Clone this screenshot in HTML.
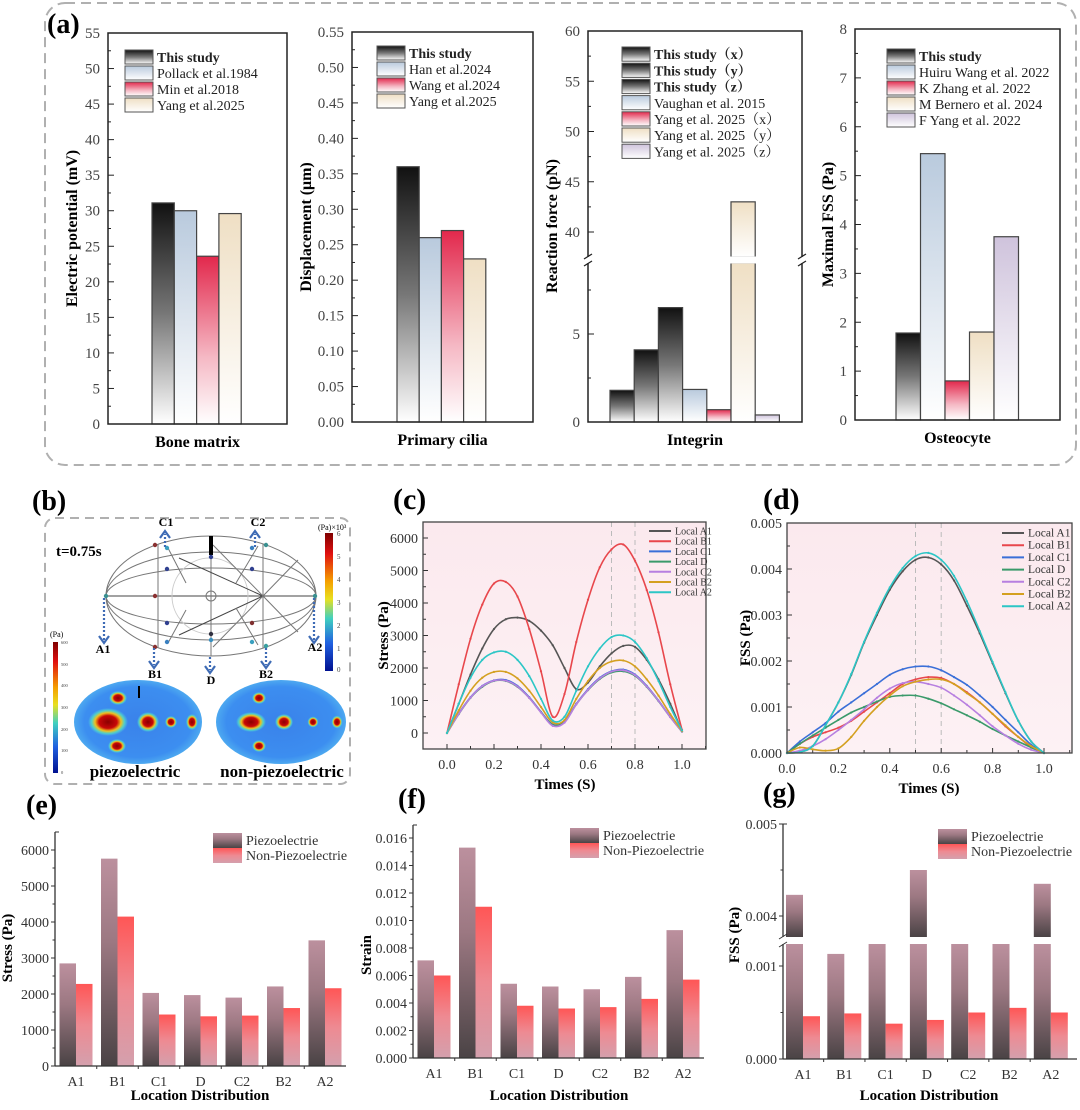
<!DOCTYPE html>
<html><head><meta charset="utf-8">
<style>
html,body{margin:0;padding:0;background:#fff;}
svg, svg text{font-family:"Liberation Serif","Times New Roman","Noto Serif CJK SC",serif;}
</style></head>
<body>
<svg id="fig" width="1080" height="1105" viewBox="0 0 1080 1105" xmlns="http://www.w3.org/2000/svg" font-family="Liberation Serif, Noto Serif CJK SC, serif">
<defs>
<linearGradient id="gBlack" x1="0" y1="0" x2="0" y2="1"><stop offset="0" stop-color="#111"/><stop offset="0.5" stop-color="#777"/><stop offset="1" stop-color="#fff"/></linearGradient>
<linearGradient id="gBlue" x1="0" y1="0" x2="0" y2="1"><stop offset="0" stop-color="#b9cadd"/><stop offset="1" stop-color="#fff"/></linearGradient>
<linearGradient id="gRed" x1="0" y1="0" x2="0" y2="1"><stop offset="0" stop-color="#e2284c"/><stop offset="0.6" stop-color="#f5b8c4"/><stop offset="1" stop-color="#fff"/></linearGradient>
<linearGradient id="gBeige" x1="0" y1="0" x2="0" y2="1"><stop offset="0" stop-color="#efdfc4"/><stop offset="1" stop-color="#fff"/></linearGradient>
<linearGradient id="gPurple" x1="0" y1="0" x2="0" y2="1"><stop offset="0" stop-color="#cfc3dc"/><stop offset="1" stop-color="#fff"/></linearGradient>
<linearGradient id="gPiezo" x1="0" y1="0" x2="0" y2="1"><stop offset="0" stop-color="#bc909e"/><stop offset="0.4" stop-color="#9c7882"/><stop offset="1" stop-color="#4a4345"/></linearGradient>
<linearGradient id="gNon" x1="0" y1="0" x2="0" y2="1"><stop offset="0" stop-color="#ff5656"/><stop offset="0.5" stop-color="#ee8a92"/><stop offset="1" stop-color="#d4a0ad"/></linearGradient>
<linearGradient id="gPink" x1="0" y1="0" x2="0" y2="1"><stop offset="0" stop-color="#fbe9ee"/><stop offset="1" stop-color="#fdf1f4"/></linearGradient>
<linearGradient id="gJet" x1="0" y1="0" x2="0" y2="1"><stop offset="0" stop-color="#7f0000"/><stop offset="0.15" stop-color="#e01010"/><stop offset="0.35" stop-color="#f5a000"/><stop offset="0.48" stop-color="#e8e020"/><stop offset="0.62" stop-color="#40d0c0"/><stop offset="0.8" stop-color="#2060e0"/><stop offset="1" stop-color="#00108f"/></linearGradient>
<radialGradient id="gHot"><stop offset="0" stop-color="#8b0000"/><stop offset="0.45" stop-color="#c80808"/><stop offset="0.65" stop-color="#f0c020"/><stop offset="0.82" stop-color="#50d0c8"/><stop offset="1" stop-color="#50c8e0" stop-opacity="0"/></radialGradient>
<radialGradient id="gMap" cx="0.5" cy="0.5" r="0.6"><stop offset="0" stop-color="#3a82ea"/><stop offset="0.7" stop-color="#3c8ef0"/><stop offset="0.95" stop-color="#5cc0f0"/><stop offset="1" stop-color="#c84020"/></radialGradient>
</defs>

<g>
<text x="32" y="510" font-size="28" font-weight="bold">(b)</text>
<rect x="45" y="518" width="305" height="266" rx="10" fill="none" stroke="#b0b0b0" stroke-width="2" stroke-dasharray="9,6"/>
<text x="56" y="556" font-size="15" font-weight="bold">t=0.75s</text>
<g fill="none" stroke="#777" stroke-width="1">
<ellipse cx="211" cy="596" rx="105" ry="60"/>
<ellipse cx="211" cy="596" rx="105" ry="28"/>
<ellipse cx="211" cy="596" rx="105" ry="44"/>
<line x1="106" y1="596" x2="316" y2="596" stroke="#444"/>
<line x1="211" y1="536" x2="211" y2="656"/>
<line x1="158" y1="544" x2="158" y2="648"/>
<line x1="263" y1="544" x2="263" y2="648"/>
<circle cx="210" cy="596" r="38" stroke="#ccc"/>
<circle cx="211" cy="596" r="5"/>
<line x1="179" y1="558" x2="263" y2="596" stroke="#444"/>
<line x1="179" y1="635" x2="263" y2="596" stroke="#444"/>
<line x1="168" y1="548" x2="186" y2="583"/>
<line x1="168" y1="643" x2="186" y2="610"/>
<line x1="236" y1="583" x2="258" y2="546"/>
<line x1="236" y1="608" x2="258" y2="645"/>
<line x1="263" y1="596" x2="298" y2="560"/>
<line x1="263" y1="596" x2="298" y2="632"/>
<line x1="213" y1="545" x2="263" y2="596"/>
<line x1="213" y1="647" x2="263" y2="596"/>
<line x1="211" y1="536" x2="211" y2="555" stroke="#000" stroke-width="4"/>
</g>
<g>
<circle cx="155" cy="545" r="2.2" fill="#8a3030"/><circle cx="167" cy="548" r="2.2" fill="#3aa0c0"/><circle cx="167" cy="569" r="2.2" fill="#304090"/>
<circle cx="155" cy="596" r="2.2" fill="#8a3030"/><circle cx="167" cy="623" r="2.2" fill="#304090"/><circle cx="167" cy="642" r="2.2" fill="#3a80c0"/>
<circle cx="155" cy="647" r="2.2" fill="#8a3030"/><circle cx="211" cy="557" r="2.2" fill="#304090"/><circle cx="211" cy="634" r="2.2" fill="#303040"/>
<circle cx="211" cy="640" r="2.2" fill="#3a90c0"/><circle cx="252" cy="548" r="2.2" fill="#3a80c0"/><circle cx="252" cy="569" r="2.2" fill="#304090"/>
<circle cx="266" cy="545" r="2.2" fill="#3a9090"/><circle cx="252" cy="623" r="2.2" fill="#803030"/><circle cx="252" cy="642" r="2.2" fill="#3aa0c0"/>
<circle cx="266" cy="646" r="2.2" fill="#3aa0a0"/><circle cx="106" cy="596" r="2.2" fill="#3a9090"/><circle cx="315" cy="596" r="2.2" fill="#3a9090"/>
</g>
<g stroke="#3e6bb5" stroke-width="2.2" fill="none">
<line x1="104" y1="598" x2="104" y2="640" stroke-dasharray="2,2"/><polyline points="99,636 104,643 109,636"/>
<line x1="314" y1="598" x2="314" y2="640" stroke-dasharray="2,2"/><polyline points="309,636 314,643 319,636"/>
<line x1="154" y1="648" x2="154" y2="665" stroke-dasharray="2,2"/><polyline points="149,661 154,668 159,661"/>
<line x1="210" y1="657" x2="210" y2="670" stroke-dasharray="2,2"/><polyline points="205,666 210,673 215,666"/>
<line x1="266" y1="648" x2="266" y2="665" stroke-dasharray="2,2"/><polyline points="261,661 266,668 271,661"/>
<line x1="165" y1="547" x2="165" y2="534" stroke-dasharray="2,2"/><polyline points="160,538 165,531 170,538"/>
<line x1="255" y1="547" x2="255" y2="534" stroke-dasharray="2,2"/><polyline points="250,538 255,531 260,538"/>
</g>
<g font-size="12" font-weight="bold" text-anchor="middle">
<text x="166" y="526">C1</text><text x="258" y="526">C2</text><text x="103" y="653">A1</text><text x="315" y="651">A2</text>
<text x="155" y="678">B1</text><text x="211" y="684">D</text><text x="266" y="678">B2</text>
</g>
<g>
<rect x="325" y="533" width="8" height="138" fill="url(#gJet)"/>
<text x="318" y="530" font-size="8">(Pa)×10³</text>
<g font-size="7" fill="#444"><text x="337" y="536">6</text><text x="337" y="559">5</text><text x="337" y="582">4</text><text x="337" y="605">3</text><text x="337" y="628">2</text><text x="337" y="651">1</text><text x="337" y="672">0</text></g>
</g>
<g>
<rect x="53" y="642" width="5" height="131" fill="url(#gJet)"/>
<text x="50" y="637" font-size="8">(Pa)</text>
<g font-size="4.5" fill="#444"><text x="61" y="644">600</text><text x="61" y="666">500</text><text x="61" y="687">400</text><text x="61" y="709">300</text><text x="61" y="731">200</text><text x="61" y="752">100</text><text x="61" y="774">0</text></g>
</g>
<g>
<ellipse cx="138" cy="722" rx="64" ry="42" fill="url(#gMap)"/>
<ellipse cx="108" cy="722" rx="20" ry="14" fill="url(#gHot)"/><ellipse cx="148" cy="722" rx="11" ry="10" fill="url(#gHot)"/>
<ellipse cx="118" cy="698" rx="9" ry="7" fill="url(#gHot)"/><ellipse cx="117" cy="746" rx="9" ry="7" fill="url(#gHot)"/>
<ellipse cx="171" cy="722" rx="6" ry="6" fill="url(#gHot)"/><ellipse cx="192" cy="722" rx="6" ry="8" fill="url(#gHot)"/>
<line x1="139" y1="686" x2="139" y2="698" stroke="#000" stroke-width="2"/>
<text x="135" y="777" font-size="17" font-weight="bold" text-anchor="middle">piezoelectric</text>
</g>
<g>
<ellipse cx="281" cy="722" rx="65" ry="42" fill="url(#gMap)"/>
<ellipse cx="251" cy="722" rx="15" ry="10" fill="url(#gHot)"/><ellipse cx="284" cy="722" rx="9" ry="8" fill="url(#gHot)"/>
<ellipse cx="259" cy="698" rx="7" ry="6" fill="url(#gHot)"/><ellipse cx="259" cy="746" rx="7" ry="6" fill="url(#gHot)"/>
<ellipse cx="313" cy="722" rx="5.5" ry="5.5" fill="url(#gHot)"/><ellipse cx="337" cy="722" rx="5.5" ry="6.5" fill="url(#gHot)"/>
<text x="282" y="777" font-size="17" font-weight="bold" text-anchor="middle">non-piezoelectric</text>
</g>
</g>

<rect x="45" y="3" width="1031" height="462" rx="20" fill="none" stroke="#b0b0b0" stroke-width="2" stroke-dasharray="10,6"/>
<text x="47" y="33" font-size="28" font-weight="bold">(a)</text>
<text x="393" y="509" font-size="30" font-weight="bold">(c)</text>
<text x="763" y="509" font-size="30" font-weight="bold">(d)</text>
<text x="26" y="814" font-size="28" font-weight="bold">(e)</text>
<text x="398" y="808" font-size="28" font-weight="bold">(f)</text>
<text x="763" y="802" font-size="28" font-weight="bold">(g)</text>
</svg>

<script>
// ---------- DATA ----------
const a1Legend = ['This study','Pollack et al.1984','Min et al.2018','Yang et al.2025'];
const a1Values = [31.1, 30.0, 23.6, 29.6];
const a1Ticks = [0,5,10,15,20,25,30,35,40,45,50,55];
const a2Legend = ['This study','Han et al.2024','Wang et al.2024','Yang et al.2025'];
const a2Values = [0.36, 0.26, 0.27, 0.23];
const a2Ticks = [0,0.05,0.10,0.15,0.20,0.25,0.30,0.35,0.40,0.45,0.50,0.55];
const a2TickLabels = ['0.00','0.05','0.10','0.15','0.20','0.25','0.30','0.35','0.40','0.45','0.50','0.55'];
const a3Legend = ['This study（x）','This study（y）','This study（z）','Vaughan et al. 2015','Yang et al. 2025（x）','Yang et al. 2025（y）','Yang et al. 2025（z）'];
const a3Values = [1.8, 4.1, 6.5, 1.85, 0.7, 43, 0.4];
const a3LowTicks = [0,5];
const a3HighTicks = [40,45,50,55,60];
const a4Legend = ['This study','Huiru Wang et al. 2022','K Zhang et al. 2022','M Bernero et al. 2024','F Yang et al. 2022'];
const a4Values = [1.78, 5.45, 0.8, 1.8, 3.75];
const a4Ticks = [0,1,2,3,4,5,6,7,8];

const seriesNames = ['Local A1','Local B1','Local C1','Local D','Local C2','Local B2','Local A2'];
const timePoints = [0,0.05,0.1,0.15,0.2,0.25,0.3,0.35,0.4,0.45,0.5,0.55,0.6,0.65,0.7,0.75,0.8,0.85,0.9,0.95,1.0];
const cA1 = [0,900,1800,2600,3200,3500,3550,3450,3150,2700,2000,1350,1550,2050,2450,2680,2650,2250,1650,900,50];
const cB1 = [0,1500,2900,3950,4600,4650,4200,3200,1900,500,1200,2800,4100,5100,5650,5800,5300,4400,3100,1500,100];
const cC1 = [0,600,1100,1450,1620,1630,1450,1100,650,260,350,900,1350,1700,1900,1950,1800,1450,1000,500,50];
const cD  = [0,580,1080,1420,1600,1600,1420,1080,640,250,340,880,1320,1660,1860,1900,1760,1420,980,490,40];
const cC2 = [0,590,1090,1440,1610,1610,1430,1080,630,220,320,880,1330,1680,1890,1930,1780,1430,990,490,45];
const cB2 = [0,700,1300,1700,1880,1880,1680,1300,800,320,400,1050,1600,2000,2200,2230,2050,1650,1150,580,60];
const cA2 = [0,900,1700,2250,2480,2500,2250,1750,1050,380,500,1300,2050,2600,2950,3000,2800,2300,1600,800,80];
const cYTicks = [0,1000,2000,3000,4000,5000,6000];
const cXTicks = [0,0.2,0.4,0.6,0.8,1.0];

const dA1 = [0,0.02,0.15,0.6,1.1,1.7,2.4,3.0,3.55,3.95,4.2,4.25,4.1,3.75,3.2,2.6,1.95,1.3,0.7,0.25,0.0];
const dB1 = [0,0.2,0.35,0.45,0.55,0.7,0.9,1.1,1.3,1.5,1.6,1.65,1.63,1.5,1.32,1.1,0.85,0.58,0.35,0.13,0];
const dC1 = [0,0.25,0.45,0.65,0.9,1.1,1.3,1.5,1.7,1.82,1.88,1.88,1.8,1.65,1.48,1.25,1.0,0.72,0.45,0.18,0];
const dD  = [0,0.2,0.38,0.55,0.72,0.88,1.0,1.12,1.22,1.25,1.25,1.18,1.08,0.95,0.82,0.68,0.52,0.38,0.25,0.12,0];
const dC2 = [0,0.05,0.15,0.3,0.5,0.72,0.95,1.2,1.4,1.52,1.55,1.5,1.42,1.25,1.05,0.82,0.58,0.38,0.2,0.07,0];
const dB2 = [0,0.12,0.08,0.05,0.1,0.35,0.7,1.0,1.25,1.45,1.55,1.6,1.6,1.5,1.3,1.1,0.85,0.6,0.35,0.15,0];
const dA2 = [0,0.02,0.15,0.6,1.1,1.72,2.42,3.05,3.6,4.02,4.28,4.35,4.2,3.85,3.3,2.65,1.98,1.32,0.7,0.25,0];
const dYTicks = [0,0.001,0.002,0.003,0.004,0.005];
const dYTickLabels = ['0.000','0.001','0.002','0.003','0.004','0.005'];
const dXTicks = [0,0.2,0.4,0.6,0.8,1.0];

const locations = ['A1','B1','C1','D','C2','B2','A2'];
const ePiezo = [2850,5760,2030,1970,1900,2210,3490];
const eNon   = [2280,4150,1430,1380,1400,1610,2160];
const eTicks = [0,1000,2000,3000,4000,5000,6000];
const fPiezo = [0.0071,0.0153,0.0054,0.0052,0.0050,0.0059,0.0093];
const fNon   = [0.0060,0.0110,0.0038,0.0036,0.0037,0.0043,0.0057];
const fTicks = [0,0.002,0.004,0.006,0.008,0.010,0.012,0.014,0.016];
const fTickLabels = ['0.000','0.002','0.004','0.006','0.008','0.010','0.012','0.014','0.016'];
const gPiezo = [0.00423,0.00113,0.0016,0.0045,0.0016,0.0016,0.00435];
const gNon   = [0.00046,0.00049,0.00038,0.00042,0.00050,0.00055,0.00050];
const gTicks = [0,0.001,0.004,0.005];
const gTickLabels = ['0.000','0.001','0.004','0.005'];

// ---------- HELPERS ----------
const NS='http://www.w3.org/2000/svg';
const svg=document.getElementById('fig');
function mk(tag,attrs,parent){const e=document.createElementNS(NS,tag);for(const k in attrs)e.setAttribute(k,attrs[k]);(parent||svg).appendChild(e);return e;}
function txt(s,attrs,parent){const t=mk('text',attrs,parent);t.textContent=s;return t;}
function group(name){const g=mk('g',{});


return g;}
function smooth(pts){let d='M'+pts[0][0]+','+pts[0][1];for(let i=0;i<pts.length-1;i++){const p0=pts[Math.max(0,i-1)],p1=pts[i],p2=pts[i+1],p3=pts[Math.min(pts.length-1,i+2)];
const c1x=p1[0]+(p2[0]-p0[0])/6,c1y=p1[1]+(p2[1]-p0[1])/6,c2x=p2[0]-(p3[0]-p1[0])/6,c2y=p2[1]-(p3[1]-p1[1])/6;
d+=' C'+c1x.toFixed(1)+','+c1y.toFixed(1)+' '+c2x.toFixed(1)+','+c2y.toFixed(1)+' '+p2[0].toFixed(1)+','+p2[1].toFixed(1);}return d;}

// ---------- PANEL A ----------
function drawA(p,legend,values,fills,ticks,tickLabels,name){
  const g=group(name);
  const y=v=>p.yBot-(v/p.vmax)*(p.yBot-p.yTop);
  for(let i=0;i<ticks.length;i++){const yy=y(ticks[i]);
    mk('line',{x1:p.x0,x2:p.x0+6,y1:yy,y2:yy,stroke:'#222'},g);
    const lb=txt(tickLabels[i],{x:p.x0-8,y:yy+5,'text-anchor':'end','font-size':15,fill:'#444'},g);
    
    
    if(i<ticks.length-1){const ym=y((ticks[i]+ticks[i+1])/2);mk('line',{x1:p.x0,x2:p.x0+3,y1:ym,y2:ym,stroke:'#222'},g);}
  }
  for(let i=0;i<values.length;i++){const yy=y(values[i]);
    const r=mk('rect',{x:p.bar0+i*p.barW,y:yy,width:p.barW,height:p.yBot-yy,fill:'url(#'+fills[i]+')',stroke:'#444','stroke-width':1.2},g);
    
    
  }
  mk('rect',{x:p.x0,y:p.yTop,width:p.x1-p.x0,height:p.yBot-p.yTop,fill:'none',stroke:'#222','stroke-width':1.5},g);
  drawLegendA(p,legend,fills,g);
  const yt=txt(p.yTitle,{x:0,y:0,transform:'translate('+p.yTitleX+','+((p.yTop+p.yBot)/2)+') rotate(-90)','text-anchor':'middle','font-size':16,'font-weight':'bold'},g);
  
  
  const xt=txt(p.xTitle,{x:(p.x0+p.x1)/2,y:p.yBot+23,'text-anchor':'middle','font-size':16,'font-weight':'bold'},g);
  
  
}
function drawLegendA(p,legend,fills,g){
  for(let i=0;i<legend.length;i++){const yy=p.legY+i*p.legDy;
    const e=group('legend-entry');g.appendChild(e);
    mk('rect',{x:p.legX,y:yy,width:28,height:p.legDy-2,fill:'url(#'+fills[i]+')',stroke:'#555'},e);
    txt(legend[i],{x:p.legX+32,y:yy+p.legDy-4,'font-size':14,'font-weight':legend[i].indexOf('This study')===0?'bold':'normal',fill:'#222'},e);
  }
}
drawA({x0:108,x1:287,yTop:33,yBot:424,vmax:55,bar0:152,barW:22.3,legX:125,legY:50,legDy:16,yTitle:'Electric potential (mV)',yTitleX:77,xTitle:'Bone matrix'},
  a1Legend,a1Values,['gBlack','gBlue','gRed','gBeige'],a1Ticks,a1Ticks.map(String),'chart-bone-matrix');
drawA({x0:352,x1:533,yTop:32,yBot:422,vmax:0.55,bar0:397,barW:22.2,legX:377,legY:46,legDy:16,yTitle:'Displacement (μm)',yTitleX:311,xTitle:'Primary cilia'},
  a2Legend,a2Values,['gBlack','gBlue','gRed','gBeige'],a2Ticks,a2TickLabels,'chart-primary-cilia');
drawA({x0:855,x1:1060,yTop:29,yBot:420,vmax:8,bar0:896,barW:24.5,legX:887,legY:49,legDy:16,yTitle:'Maximal FSS (Pa)',yTitleX:833,xTitle:'Osteocyte'},
  a4Legend,a4Values,['gBlack','gBlue','gRed','gBeige','gPurple'],a4Ticks,a4Ticks.map(String),'chart-osteocyte');

(function(){
  const g=group('chart-integrin');
  const x0=588,x1=802,yTop=31,yBot=422,brLo=263,brHi=257,lowMax=9.03;
  const y=v=>v<=lowMax?yBot-v*17.6:232-(v-40)*10.05;
  const fills=['gBlack','gBlack','gBlack','gBlue','gRed','gBeige','gPurple'];
  const allT=a3LowTicks.concat(a3HighTicks);
  for(const t of allT){const yy=y(t);mk('line',{x1:x0,x2:x0+6,y1:yy,y2:yy,stroke:'#222'},g);
    const lb=txt(String(t),{x:x0-8,y:yy+5,'text-anchor':'end','font-size':15,fill:'#444'},g);
    
    }
  for(const t of [2.5,7.5,42.5,47.5,52.5,57.5]){const yy=y(t);mk('line',{x1:x0,x2:x0+3,y1:yy,y2:yy,stroke:'#222'},g);}
  const bw=24.2,b0=610;
  for(let i=0;i<a3Values.length;i++){const v=a3Values[i];const bx=b0+i*bw;
    if(v<=lowMax){const r=mk('rect',{x:bx,y:y(v),width:bw,height:yBot-y(v),fill:'url(#'+fills[i]+')',stroke:'#444','stroke-width':1.2},g);
      
      }
    else{const r=mk('rect',{x:bx,y:brLo,width:bw,height:yBot-brLo,fill:'url(#'+fills[i]+')',stroke:'#444','stroke-width':1.2},g);
      
      
      const r2=mk('rect',{x:bx,y:y(v),width:bw,height:brHi-y(v),fill:'url(#'+fills[i]+')',stroke:'#444','stroke-width':1.2},g);
      
      
      mk('rect',{x:bx-1,y:brHi-0.5,width:bw+2,height:brLo-brHi+1,fill:'#fff'},g);}
  }
  mk('rect',{x:x0,y:yTop,width:x1-x0,height:yBot-yTop,fill:'none',stroke:'#222','stroke-width':1.5},g);
  for(const xx of [x0,x1]){mk('rect',{x:xx-3,y:brHi,width:6,height:brLo-brHi,fill:'#fff'},g);
    mk('line',{x1:xx-4,y1:brHi+2,x2:xx+4,y2:brHi-3,stroke:'#222','stroke-width':1.3},g);
    mk('line',{x1:xx-4,y1:brLo+3,x2:xx+4,y2:brLo-2,stroke:'#222','stroke-width':1.3},g);}
  drawLegendA({legX:622,legY:47,legDy:16.2},a3Legend,fills,g);
  const yt=txt('Reaction force (pN)',{x:0,y:0,transform:'translate(557,226) rotate(-90)','text-anchor':'middle','font-size':16,'font-weight':'bold'},g);
  
  
  const xt=txt('Integrin',{x:695,y:445,'text-anchor':'middle','font-size':16,'font-weight':'bold'},g);
  
  
})();

// ---------- LINE CHARTS ----------
const colors=['#555555','#e8474c','#3a6fd8','#3a9a6a','#b77fe0','#d4a020','#2cc6c6'];
function drawLines(p,series,yTicks,yLabels,xTicks,name){
  const g=group(name);
  const X=t=>p.xa+t*p.xs, Y=v=>p.yBot0-v*p.ys;
  mk('rect',{x:p.x0,y:p.y0,width:p.x1-p.x0,height:p.y1-p.y0,fill:'url(#gPink)'},g);
  for(const t of p.vlines) mk('line',{x1:X(t),x2:X(t),y1:p.y0,y2:p.y1,stroke:'#bbb','stroke-dasharray':'5,4'},g);
  for(let i=0;i<yTicks.length;i++){const yy=Y(yTicks[i]);mk('line',{x1:p.x0,x2:p.x0+5,y1:yy,y2:yy,stroke:'#333'},g);
    const lb=txt(yLabels[i],{x:p.x0-5,y:yy+5,'text-anchor':'end','font-size':14,fill:'#333'},g);
    
    
    const ym=Y(yTicks[i]+(yTicks[1]-yTicks[0])/2); if(ym>p.y0) mk('line',{x1:p.x0,x2:p.x0+3,y1:ym,y2:ym,stroke:'#333'},g);}
  for(let i=0;i<xTicks.length;i++){const xx=X(xTicks[i]);mk('line',{x1:xx,x2:xx,y1:p.y1,y2:p.y1-5,stroke:'#333'},g);
    const lb=txt(xTicks[i].toFixed(1),{x:xx,y:p.y1+20,'text-anchor':'middle','font-size':14,fill:'#333'},g);
    
    
    const xm=X(xTicks[i]+0.1); if(xm<p.x1) mk('line',{x1:xm,x2:xm,y1:p.y1,y2:p.y1-3,stroke:'#333'},g);}
  for(let s=0;s<series.length;s++){
    const pts=timePoints.map((t,i)=>[X(t),Y(series[s][i])]);
    const path=mk('path',{d:smooth(pts),fill:'none',stroke:colors[s],'stroke-width':1.6},g);
    
    
    for(const q of pts) mk('circle',{cx:q[0],cy:q[1],r:1.1,fill:colors[s]},g);
  }
  mk('rect',{x:p.x0,y:p.y0,width:p.x1-p.x0,height:p.y1-p.y0,fill:'none',stroke:'#444','stroke-width':1.3},g);
  for(let s=0;s<seriesNames.length;s++){const yy=p.legY+s*p.legDy;
    const e=group('legend-entry');g.appendChild(e);
    mk('line',{x1:p.legX,x2:p.legX+22,y1:yy,y2:yy,stroke:colors[s],'stroke-width':2},e);
    txt(seriesNames[s],{x:p.legX+26,y:yy+3.5,'font-size':p.legFont,fill:'#333'},e);}
  const yt=txt(p.yTitle,{x:0,y:0,transform:'translate('+p.yTitleX+','+((p.y0+p.y1)/2)+') rotate(-90)','text-anchor':'middle','font-size':15,'font-weight':'bold'},g);
  
  
  const xt=txt('Times (S)',{x:p.xTitleX,y:p.y1+40,'text-anchor':'middle','font-size':15,'font-weight':'bold'},g);
  
  
}
drawLines({x0:423,x1:706,y0:522,y1:749,xa:447,xs:235,yBot0:733,ys:0.0325,vlines:[0.7,0.8],legX:649,legY:531,legDy:10.2,legFont:10,yTitle:'Stress (Pa)',yTitleX:388,xTitleX:565},
  [cA1,cB1,cC1,cD,cC2,cB2,cA2],cYTicks,cYTicks.map(String),cXTicks,'chart-stress-time');
drawLines({x0:787,x1:1072,y0:523,y1:753,xa:787,xs:257,yBot0:753,ys:46000,vlines:[0.5,0.6],legX:1002,legY:533,legDy:12.2,legFont:11.5,yTitle:'FSS (Pa)',yTitleX:750,xTitleX:929},
  [dA1,dB1,dC1,dD,dC2,dB2,dA2].map(a=>a.map(v=>v/1000)),dYTicks,dYTickLabels,dXTicks,'chart-fss-time');

// ---------- GROUPED BARS ----------
function drawGroup(p,piezo,non,ticks,tickLabels,name){
  const g=group(name);
  for(let i=0;i<ticks.length;i++){const yy=p.Y(ticks[i]);mk('line',{x1:p.x0-4,x2:p.x0,y1:yy,y2:yy,stroke:'#333'},g);
    const lb=txt(tickLabels[i],{x:p.x0-6,y:yy+5,'text-anchor':'end','font-size':14,fill:'#333'},g);
    
    }
  (p.minor||[]).forEach(v=>{const yy=p.Y(v);mk('line',{x1:p.x0-2.5,x2:p.x0,y1:yy,y2:yy,stroke:'#333'},g);});
  for(let i=0;i<locations.length;i++){const cx=p.c0+i*p.dx;
    const pieces=p.pieces?p.pieces(piezo[i]):[[p.Y(piezo[i]),p.yBot]];
    pieces.forEach(pc=>{const r=mk('rect',{x:cx-p.bw,y:pc[0],width:p.bw,height:pc[1]-pc[0],fill:'url(#gPiezo)'},g);
      
      });
    const yn=p.Y(non[i]);
    const r2=mk('rect',{x:cx,y:yn,width:p.bw,height:p.yBot-yn,fill:'url(#gNon)'},g);
    
    
    const lb=txt(locations[i],{x:cx,y:p.yBot+20,'text-anchor':'middle','font-size':14,fill:'#333'},g);
    
    
    if(i<locations.length-1) mk('line',{x1:cx+p.dx/2,x2:cx+p.dx/2,y1:p.yBot,y2:p.yBot+3,stroke:'#333'},g);
  }
  mk('line',{x1:p.x0,x2:p.x1,y1:p.yBot,y2:p.yBot,stroke:'#333','stroke-width':1.3},g);
  if(p.brk){mk('line',{x1:p.x0,x2:p.x0,y1:p.yTop,y2:p.brk[0],stroke:'#333','stroke-width':1.3},g);
    mk('line',{x1:p.x0,x2:p.x0,y1:p.brk[1],y2:p.yBot,stroke:'#333','stroke-width':1.3},g);
    mk('line',{x1:p.x0-4,y1:p.brk[0]+2,x2:p.x0+4,y2:p.brk[0]-3,stroke:'#333'},g);
    mk('line',{x1:p.x0-4,y1:p.brk[1]+3,x2:p.x0+4,y2:p.brk[1]-2,stroke:'#333'},g);}
  else mk('line',{x1:p.x0,x2:p.x0,y1:p.yTop,y2:p.yBot,stroke:'#333','stroke-width':1.3},g);
  mk('line',{x1:p.x0,x2:p.x0+4,y1:p.yTop,y2:p.yTop,stroke:'#333'},g);
  const names=['Piezoelectrie','Non-Piezoelectrie'],fl=['gPiezo','gNon'];
  for(let k=0;k<2;k++){const e=group('legend-entry');g.appendChild(e);
    mk('rect',{x:p.legX,y:p.legY+k*15,width:29,height:15,fill:'url(#'+fl[k]+')'},e);
    txt(names[k],{x:p.legX+33,y:p.legY+k*15+12,'font-size':14,fill:'#333'},e);}
  const yt=txt(p.yTitle,{x:0,y:0,transform:'translate('+p.yTitleX+','+p.yTitleY+') rotate(-90)','text-anchor':'middle','font-size':15,'font-weight':'bold'},g);
  
  
  const xt=txt('Location Distribution',{x:p.xTitleX,y:1100,'text-anchor':'middle','font-size':15,'font-weight':'bold'},g);
  
  
}
drawGroup({x0:55,x1:346,yTop:832,yBot:1066,Y:v=>1066-v*0.036,c0:76,dx:41.5,bw:16.5,legX:213,legY:833,minor:[500,1500,2500,3500,4500,5500],yTitle:'Stress (Pa)',yTitleX:12,yTitleY:948,xTitleX:200},
  ePiezo,eNon,eTicks,eTicks.map(String),'chart-stress-location');
drawGroup({x0:413,x1:704,yTop:825,yBot:1058,Y:v=>1058-v*13750,c0:434,dx:41.5,bw:16.5,legX:570,legY:828,minor:[0.001,0.003,0.005,0.007,0.009,0.011,0.013,0.015],yTitle:'Strain',yTitleX:371,yTitleY:955,xTitleX:559},
  fPiezo,fNon,fTicks,fTickLabels,'chart-strain-location');
const gLowMax=0.00124,gHighMin=0.00377;
const gY=v=>v<=gLowMax?1059-v*93000:916-(v-0.004)*92000;
drawGroup({x0:783,x1:1077,yTop:824,yBot:1059,Y:gY,c0:803,dx:41.3,bw:17,legX:938,legY:829,brk:[937,944],minor:[0.0005,0.0045],
  pieces:v=>v<=gLowMax?[[gY(v),1059]]:(v<gHighMin?[[944,1059]]:[[944,1059],[gY(v),937]]),
  yTitle:'FSS (Pa)',yTitleX:739,yTitleY:935,xTitleX:929},
  gPiezo,gNon,gTicks,gTickLabels,'chart-fss-location');
</script>
</body></html>
